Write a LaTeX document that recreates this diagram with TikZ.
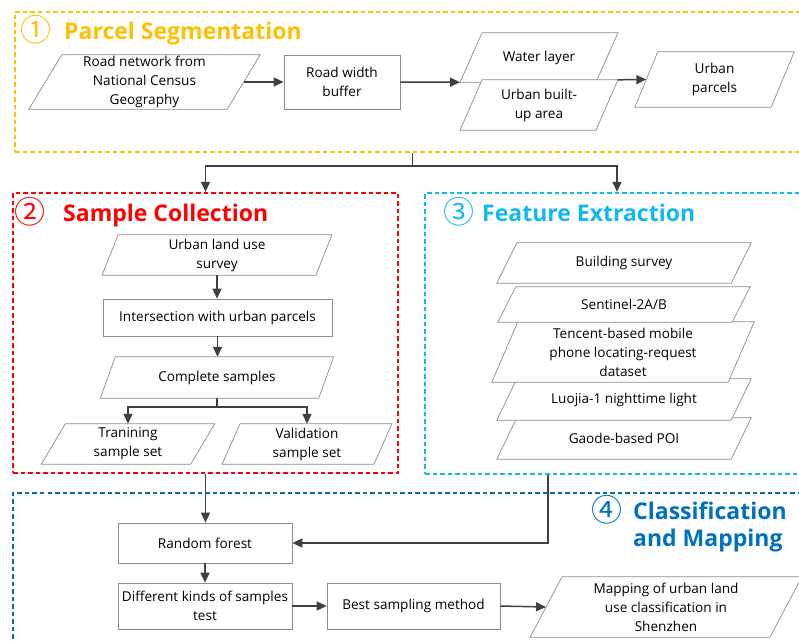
\documentclass[tikz,border=0pt]{standalone}
\usepackage{fontspec}
\setmainfont{Open Sans}
\newfontfamily\symf{Noto Sans CJK SC}
\newcommand\numfont{\symf\fontsize{31}{31}\mdseries\selectfont}
\newcommand\cnum[1]{\raisebox{-2pt}{\numfont #1}}
\usetikzlibrary{arrows.meta}
\pgfdeclarelayer{bg}
\pgfsetlayers{bg,main}
\definecolor{cOrange}{HTML}{FFC000}
\definecolor{cRed}{HTML}{FF0000}
\definecolor{cCyan}{HTML}{14B8F0}
\definecolor{cBlue}{HTML}{0070C0}
\definecolor{boxgray}{HTML}{8C8C8C}
\definecolor{arrgray}{HTML}{404040}
\tikzset{
 txt/.style={font=\fontsize{13.6}{19}\selectfont, align=center, inner sep=0pt, text=black},
 rbox/.style={txt, draw=boxgray, line width=0.7pt, fill=white},
 pshape/.style={draw=boxgray, line width=0.7pt, fill=white},
 arr/.style={draw=arrgray, line width=1.5pt, -{Triangle[length=10pt,width=9pt]}},
 dbox/.style={line width=2.3pt, dash pattern=on 4.5pt off 3pt, inner sep=0pt},
 ttl/.style={font=\fontsize{23}{27}\bfseries\selectfont, anchor=base west, inner sep=0pt, align=left},
}
% name, cx, cy, w, h, half-slant, text
\newcommand\para[7]{%
 \node[txt, minimum width=#4pt, minimum height=#5pt] (#1) at (#2,#3) {#7};
 \begin{pgfonlayer}{bg}
 \draw[pshape] ([xshift=#6pt]#1.north west) -- ([xshift=#6pt]#1.north east) -- ([xshift=-#6pt]#1.south east) -- ([xshift=-#6pt]#1.south west) -- cycle;
 \end{pgfonlayer}}
\begin{document}
\begin{tikzpicture}[x=1pt,y=-1pt]
\useasboundingbox (0,0) rectangle (799,641);
\clip (0,0) rectangle (799,641);
\begin{pgfonlayer}{bg}
\fill[white] (0,0) rectangle (799,641);
\end{pgfonlayer}

% dashed section boxes
\node[dbox, draw=cOrange, minimum width=795pt, minimum height=140pt] (box1) at (412.5,82) {};
\node[dbox, draw=cRed, minimum width=385pt, minimum height=280pt] (box2) at (205.5,333) {};
\node[dbox, draw=cCyan, minimum width=384pt, minimum height=281pt] (box3) at (617,333.5) {};
\node[dbox, draw=cBlue, minimum width=797pt, minimum height=200pt] (box4) at (411.5,593) {};

% titles
\node[ttl, text=cOrange] (t1) at (20,39) {\cnum{①}\hspace{13pt}Parcel Segmentation};
\node[ttl, text=cRed] (t2) at (14.5,221) {\cnum{②}\hspace{17.5pt}Sample Collection};
\node[ttl, text=cCyan] (t3) at (443,221) {\cnum{③}\hspace{8pt}Feature Extraction};
\node[ttl, text=cBlue] (t4) at (591,519) {\cnum{④}\hspace{11pt}\begin{tabular}[t]{@{}l@{}}Classification\\and Mapping\end{tabular}};

% 1 Parcel segmentation
\para{road}{144.5}{82}{198}{54}{16.5}{Road network from\\National Census\\Geography}
\node[rbox, minimum width=116pt, minimum height=54pt] (buffer) at (342,82) {Road width\\buffer};
\para{water}{539}{57.5}{135.5}{49}{11}{Water layer}
\para{builtup}{539}{105}{135.5}{50}{11}{Urban built-\\up area}
\para{parcels}{714.5}{79.5}{136}{55}{11.5}{Urban\\parcels}

\draw[arr] (road.east) -- (buffer.west);
\draw[arr] (buffer.east) -- ([xshift=-11pt]water.south west);
\draw[arr] ([xshift=11pt]builtup.north east) -- (parcels.west);
\draw[arr] (box1.south) -- ++(0,13) -| (box2.north);
\draw[arr] (box1.south) -- ++(0,13) -| (box3.north);

% 2 Sample collection
\para{survey}{217}{255}{213.5}{40}{8}{Urban land use\\survey}
\node[rbox, minimum width=229pt, minimum height=37pt] (inter) at (217.5,317.5) {Intersection with urban parcels};
\para{complete}{217}{377.5}{218}{41}{7.5}{Complete samples}
\para{train}{128}{444}{149}{40}{12}{Tranining\\sample set}
\para{valid}{307}{444}{151.5}{40}{9}{Validation\\sample set}

\draw[arr] (survey.south) -- (survey.south |- inter.north);
\draw[arr] (inter.south) -- (inter.south |- complete.north);
\draw[arr] (complete.south) -- ++(0,9) -| (train.north);
\draw[arr] (complete.south) -- ++(0,9) -| (valid.north);

% 3 Feature extraction (stack, bottom layer first)
\para{gaode}{624}{438.5}{234}{41}{10}{Gaode-based POI}
\para{luojia}{624}{399.5}{234}{41}{10}{Luojia-1 nighttime light}
\para{tencent}{623}{352}{236}{60}{13}{Tencent-based mobile\\phone locating-request\\dataset}
\para{sentinel}{624}{304.5}{234}{35}{9}{Sentinel-2A/B}
\para{building}{624}{263}{234}{40}{10}{Building survey}

% 4 Classification and mapping
\node[rbox, minimum width=174pt, minimum height=40pt] (rf) at (205,543) {Random forest};
\node[rbox, minimum width=174pt, minimum height=46pt] (diff) at (205,606) {Different kinds of samples\\test};
\node[rbox, minimum width=173pt, minimum height=46pt] (best) at (413.5,606) {Best sampling method};
\para{mapping}{666}{607}{239.5}{60}{16}{Mapping of urban land\\use classification in\\Shenzhen}

\draw[arr] (box2.south) -- (box2.south |- rf.north);
\draw[arr] ([xshift=-69pt]box3.south) |- (rf.east);
\draw[arr] (rf.south) -- (diff.north);
\draw[arr] (diff.east) -- (best.west);
\draw[arr] (best.east) -- (mapping.west);
\end{tikzpicture}
\end{document}
